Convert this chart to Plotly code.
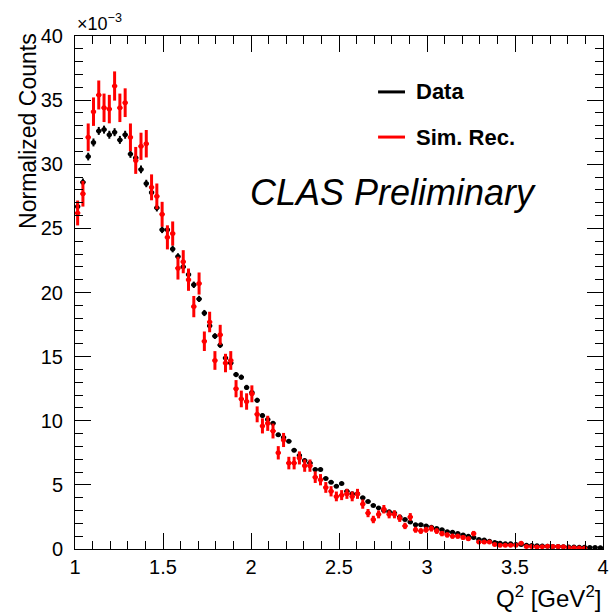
import plotly.graph_objects as go

# Histogram binning (Q^2 from 1 to 4 GeV^2, 100 bins)
bin_lo = 1.0
bin_width = 0.03
n_bins = 100
x_centers = [round(bin_lo + bin_width * (i + 0.5), 4) for i in range(n_bins)]

# Values in units of 1e-3
data_vals = [26.7, 28.6, 30.6, 31.7, 32.6, 32.7, 32.3, 32.5, 31.9, 32.3,
             30.8, 30.5, 29.6, 28.5, 27.8, 26.6, 24.9, 24.9, 23.4, 22.8,
             22.0, 21.4, 20.6, 19.5, 18.4, 17.4, 16.6, 15.9, 14.9, 14.5,
             13.6, 13.4, 12.6, 12.2, 11.6, 10.4, 10.1, 9.8, 8.9, 8.7,
             8.4, 7.7, 7.3, 6.9, 6.7, 6.2, 6.2, 5.5, 5.2, 4.9,
             5.1, 4.5, 4.3, 4.3, 4.0, 3.7, 3.4, 3.2, 3.0, 2.9,
             2.8, 2.5, 2.3, 2.1, 1.9, 1.9, 1.8, 1.7, 1.6, 1.5,
             1.35, 1.3, 1.2, 1.1, 1.0, 0.9, 0.75, 0.7, 0.6, 0.5,
             0.45, 0.4, 0.4, 0.35, 0.35, 0.3, 0.28, 0.25, 0.23, 0.22,
             0.2, 0.2, 0.18, 0.16, 0.15, 0.14, 0.13, 0.12, 0.12, 0.1]
data_errs = [0.28, 0.29, 0.30, 0.31, 0.31, 0.31, 0.31, 0.31, 0.31, 0.31,
             0.30, 0.30, 0.30, 0.29, 0.29, 0.28, 0.27, 0.27, 0.27, 0.26,
             0.26, 0.25, 0.25, 0.24, 0.24, 0.23, 0.22, 0.22, 0.21, 0.21,
             0.20, 0.20, 0.20, 0.19, 0.19, 0.18, 0.17, 0.17, 0.16, 0.16,
             0.16, 0.15, 0.15, 0.14, 0.14, 0.14, 0.14, 0.13, 0.13, 0.12,
             0.12, 0.12, 0.11, 0.11, 0.11, 0.11, 0.10, 0.10, 0.10, 0.09,
             0.09, 0.09, 0.08, 0.08, 0.08, 0.08, 0.07, 0.07, 0.07, 0.07,
             0.06, 0.06, 0.06, 0.06, 0.05, 0.05, 0.05, 0.05, 0.04, 0.04,
             0.04, 0.04, 0.04, 0.03, 0.03, 0.03, 0.03, 0.03, 0.03, 0.03,
             0.03, 0.03, 0.02, 0.02, 0.02, 0.02, 0.02, 0.02, 0.02, 0.02]

sim_vals = [26.2, 27.7, 32.1, 34.1, 35.4, 34.4, 34.3, 36.1, 34.4, 34.8,
            32.1, 30.3, 31.4, 31.6, 28.2, 27.5, 26.1, 24.3, 24.6, 21.9,
            22.4, 21.0, 18.9, 20.7, 16.2, 17.7, 14.7, 16.7, 14.5, 14.7,
            12.5, 11.7, 11.5, 12.1, 10.5, 9.6, 9.8, 9.2, 7.5, 8.5,
            6.7, 6.7, 7.1, 6.5, 6.5, 5.6, 5.4, 4.8, 4.5, 4.1,
            4.2, 4.3, 4.1, 4.3, 3.5, 2.8, 2.3, 2.7, 3.1, 2.7,
            2.7, 2.4, 1.8, 2.5, 1.5, 1.4, 1.5, 1.6, 1.4, 1.2,
            1.1, 1.0, 1.0, 0.9, 0.8, 1.2, 0.55, 0.55, 0.55, 0.35,
            0.3, 0.3, 0.3, 0.3, 0.45, 0.2, 0.2, 0.15, 0.18, 0.22,
            0.2, 0.2, 0.18, 0.1, 0.1, 0.08, 0.06, None, None, None]
sim_errs = [0.97, 1.00, 1.08, 1.11, 1.13, 1.11, 1.11, 1.14, 1.11, 1.12,
            1.08, 1.05, 1.06, 1.07, 1.01, 1.00, 0.97, 0.94, 0.94, 0.89,
            0.90, 0.87, 0.83, 0.86, 0.76, 0.80, 0.73, 0.78, 0.72, 0.73,
            0.67, 0.65, 0.64, 0.66, 0.62, 0.59, 0.59, 0.58, 0.52, 0.55,
            0.49, 0.49, 0.51, 0.48, 0.48, 0.45, 0.44, 0.42, 0.40, 0.38,
            0.39, 0.39, 0.38, 0.39, 0.36, 0.32, 0.29, 0.31, 0.33, 0.31,
            0.31, 0.29, 0.25, 0.30, 0.23, 0.22, 0.23, 0.24, 0.22, 0.21,
            0.20, 0.19, 0.19, 0.18, 0.17, 0.21, 0.14, 0.14, 0.14, 0.11,
            0.10, 0.10, 0.10, 0.10, 0.13, 0.085, 0.085, 0.07, 0.08, 0.09,
            0.085, 0.085, 0.08, 0.06, 0.06, 0.05, 0.05, None, None, None]

x_tickvals = [1, 1.5, 2, 2.5, 3, 3.5, 4]
x_ticktext = ["1", "1.5", "2", "2.5", "3", "3.5", "4"]
y_tickvals = [0, 5, 10, 15, 20, 25, 30, 35, 40]
y_ticktext = ["0", "5", "10", "15", "20", "25", "30", "35", "40"]

FONT = "Liberation Sans, Arial, Helvetica, sans-serif"
half_w = [bin_width / 2] * n_bins

fig = go.Figure()
fig.add_trace(go.Scatter(
    x=x_centers, y=data_vals, mode="markers", name="Data", showlegend=False,
    marker=dict(color="black", size=5, symbol="circle"),
    error_y=dict(type="data", array=data_errs, color="black", thickness=2, width=0),
    error_x=dict(type="data", array=half_w, color="black", thickness=2, width=0),
))
fig.add_trace(go.Scatter(
    x=x_centers, y=sim_vals, mode="markers", name="Sim. Rec.", showlegend=False,
    marker=dict(color="#ff0000", size=5, symbol="circle"),
    error_y=dict(type="data", array=sim_errs, color="#ff0000", thickness=3, width=0),
    error_x=dict(type="data", array=half_w, color="#ff0000", thickness=2, width=0),
))

axis_common = dict(
    showline=True, linecolor="black", linewidth=1, mirror="allticks",
    ticks="inside", tickcolor="black", tickwidth=1, showgrid=False, zeroline=False,
    automargin=False,
    tickfont=dict(family=FONT, size=20, color="black"),
)
fig.update_xaxes(range=[1, 4], tickvals=x_tickvals, ticktext=x_ticktext, ticklen=16,
                 minor=dict(ticks="inside", ticklen=8, dtick=0.1, tick0=1, tickcolor="black", showgrid=False),
                 **axis_common)
fig.update_yaxes(range=[0, 40], tickvals=y_tickvals, ticktext=y_ticktext, ticklen=16,
                 ticklabelstandoff=7,
                 minor=dict(ticks="inside", ticklen=8, dtick=1, tick0=0, tickcolor="black", showgrid=False),
                 **axis_common)

annotations = [
    dict(text="Normalized Counts", textangle=-90, xref="paper", yref="paper",
         x=-0.089, y=0.815, xanchor="center", yanchor="middle", showarrow=False,
         font=dict(family=FONT, size=23, color="black")),
    dict(text="Q<sup>2</sup> [GeV<sup>2</sup>]", xref="paper", yref="paper",
         x=1.0, y=-0.094, xanchor="right", yanchor="middle", showarrow=False,
         font=dict(family=FONT, size=24, color="black")),
    dict(text="×10<sup>−3</sup>", xref="paper", yref="paper",
         x=0.0, y=1.0, xanchor="left", yanchor="bottom", yshift=0, showarrow=False,
         font=dict(family=FONT, size=18, color="black")),
    dict(text="CLAS Preliminary", xref="paper", yref="paper",
         x=0.328, y=0.694, xanchor="left", yanchor="middle", showarrow=False,
         font=dict(family=FONT, size=36, color="black", style="italic")),
    dict(text="<b>Data</b>", xref="paper", yref="paper",
         x=0.642, y=0.891, xanchor="left", yanchor="middle", showarrow=False,
         font=dict(family=FONT, size=22, color="black")),
    dict(text="<b>Sim. Rec.</b>", xref="paper", yref="paper",
         x=0.642, y=0.803, xanchor="left", yanchor="middle", showarrow=False,
         font=dict(family=FONT, size=22, color="black")),
]
shapes = [
    dict(type="line", xref="paper", yref="paper", x0=0.574, x1=0.625, y0=0.891, y1=0.891,
         line=dict(color="black", width=3)),
    dict(type="line", xref="paper", yref="paper", x0=0.574, x1=0.625, y0=0.803, y1=0.803,
         line=dict(color="#ff0000", width=3)),
]

fig.update_layout(
    width=616, height=613,
    margin=dict(l=75, r=13, t=36, b=64, autoexpand=False),
    paper_bgcolor="white", plot_bgcolor="white",
    annotations=annotations, shapes=shapes,
    font=dict(family=FONT, color="black"),
)

fig.write_html("out.html")
